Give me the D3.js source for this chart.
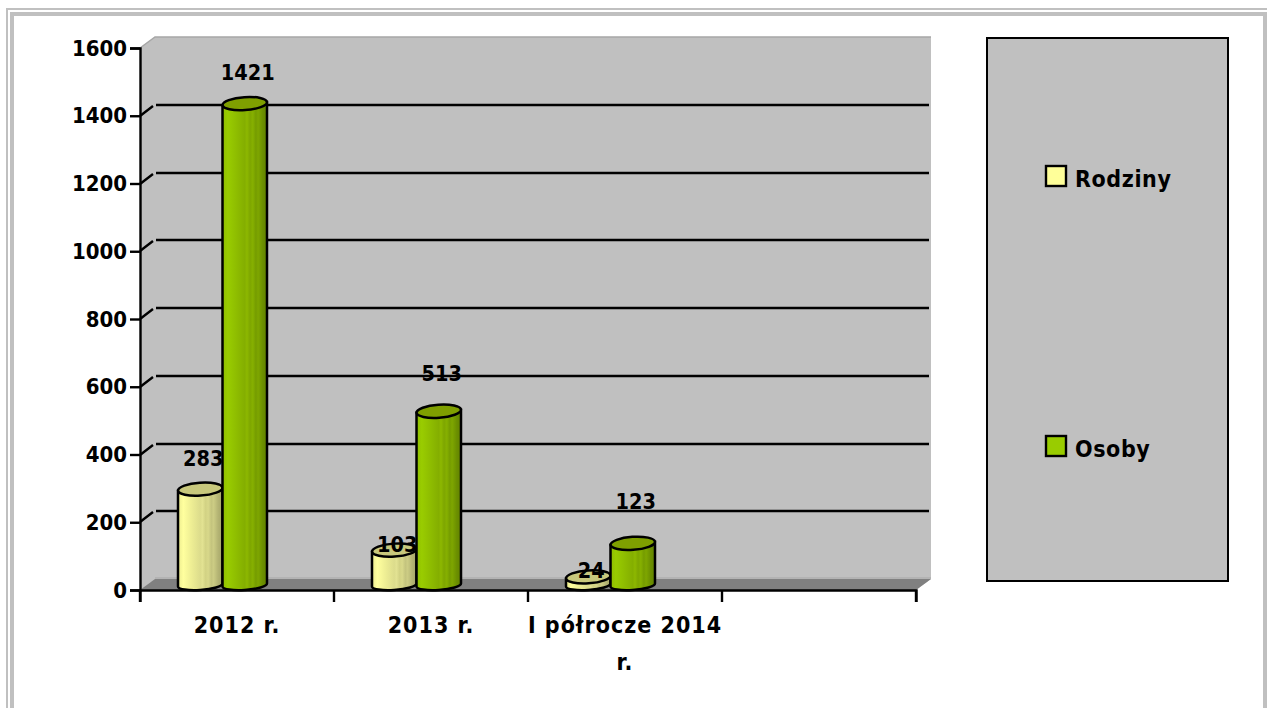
<!DOCTYPE html>
<html>
<head>
<meta charset="utf-8">
<script src="https://cdn.jsdelivr.net/npm/d3@7"></script>
<style>
body { margin: 0; background: #fff; }
svg { display: block; }
text { font-family: "DejaVu Sans Condensed", "DejaVu Sans", sans-serif; font-weight: bold; fill: #000; }
</style>
</head>
<body>
<div id="chart"></div>
<script>
var categories = ["2012 r.", "2013 r.", "I półrocze 2014 r.", " "];
var seriesNames = ["Rodziny", "Osoby"];
var rodziny = [283, 103, 24];
var osoby = [1421, 513, 123];
var yTicks = [0, 200, 400, 600, 800, 1000, 1200, 1400, 1600];

var width = 1267;
var height = 708;
var depthX = 15;
var depthY = 11;
var axisFont = 22;
var valueFont = 21.5;
var labelFont = 23;

var svg = d3.select("#chart").append("svg").attr("width", width).attr("height", height);

var x = d3.scaleBand().domain(categories).range([140, 916]);
var y = d3.scaleLinear().domain([0, 1600]).range([590, 48]);
// the two cylinders sit side by side in the middle of each band
var xInner = d3.scaleBand().domain(seriesNames).range([38, 127]);

// page frame, double grey line cut by the right edge
var frame = svg.append("g").attr("fill", "#c0c0c0");
frame.append("rect").attr("x", 6).attr("y", 8).attr("width", 1261).attr("height", 2);
frame.append("rect").attr("x", 10).attr("y", 12).attr("width", 1257).attr("height", 4);
frame.append("rect").attr("x", 6).attr("y", 8).attr("width", 2).attr("height", 700);
frame.append("rect").attr("x", 10).attr("y", 12).attr("width", 4).attr("height", 696);
frame.append("rect").attr("x", 1263).attr("y", 12).attr("width", 4).attr("height", 696);

var defs = svg.append("defs");
function addGradient(id, stops) {
    var g = defs.append("linearGradient").attr("id", id);
    stops.forEach(function(s) {
        g.append("stop").attr("offset", s[0]).attr("stop-color", s[1]);
    });
}
addGradient("gradRodziny", [[0, "#ecec90"], [0.12, "#ffff9e"], [0.3, "#eeee94"], [0.5, "#dcdc8c"], [0.55, "#e2e292"],
    [0.62, "#d2d284"], [0.68, "#d8d88a"], [0.75, "#c4c47e"], [0.8, "#cccc84"], [0.9, "#b4b474"], [1, "#a4a468"]]);
addGradient("gradOsoby", [[0, "#8fbf00"], [0.12, "#99cc00"], [0.3, "#8fbe00"], [0.5, "#84ae00"], [0.55, "#8db800"],
    [0.62, "#7ea600"], [0.68, "#86b000"], [0.75, "#759c00"], [0.8, "#7ea600"], [0.9, "#6c9000"], [1, "#628200"]]);
var topColor = { "Rodziny": "#c8c87c", "Osoby": "#7f9f00" };
var swatchColor = { "Rodziny": "#ffff99", "Osoby": "#99cc00" };

// 3D box: back wall, side wall, floor
var x0 = x.range()[0], x1 = x.range()[1];
var y0 = y(0), yTop = y(1600);
svg.append("path")
    .attr("d", "M" + x0 + "," + y0 + "L" + x0 + "," + yTop + "L" + (x0 + depthX) + "," + (yTop - depthY) +
        "L" + (x1 + depthX) + "," + (yTop - depthY) + "L" + (x1 + depthX) + "," + (y0 - depthY) + "L" + x1 + "," + y0 + "Z")
    .attr("fill", "#c0c0c0");
svg.append("path")
    .attr("d", "M" + x0 + "," + yTop + "L" + (x0 + depthX) + "," + (yTop - depthY) + "L" + (x1 + depthX) + "," + (yTop - depthY))
    .attr("fill", "none").attr("stroke", "#a6a6a6").attr("stroke-width", 1.5);
svg.append("path")
    .attr("d", "M" + x0 + "," + y0 + "L" + (x0 + depthX) + "," + (y0 - depthY) + "L" + (x1 + depthX) + "," + (y0 - depthY) + "L" + x1 + "," + y0 + "Z")
    .attr("fill", "#808080");
svg.append("path")
    .attr("d", "M" + (x0 + depthX) + "," + (y0 - depthY - 1) + "L" + (x1 + depthX) + "," + (y0 - depthY - 1))
    .attr("stroke", "#a6a6a6").attr("stroke-width", 1);

// gridlines on the back wall with the diagonal going back from each tick
var grid = svg.append("g").attr("stroke", "#000").attr("stroke-width", 2.4).attr("fill", "none");
grid.selectAll("path").data(yTicks.filter(function(d) { return d > 0 && d < 1600; })).enter().append("path")
    .attr("d", function(d) {
        var yy = Math.round(y(d));
        return "M" + x0 + "," + yy + "L" + (x0 + depthX - 2) + "," + (yy - depthY + 1) +
            "M" + (x0 + depthX + 1) + "," + (yy - depthY) + "L" + (x1 + depthX - 2) + "," + (yy - depthY);
    });

// cylinders
var baseLift = 5;
var ry = 6.5;
function cylinder(g, name, values) {
    var w = xInner.bandwidth();
    var rx = w / 2;
    values.forEach(function(v, i) {
        var cx = x(categories[i]) + xInner(name) + rx;
        var yBase = y(0) - baseLift;
        var yVal = y(v) - baseLift;
        g.append("path")
            .attr("d", "M" + (cx - rx) + "," + (yVal + 1.5) +
                "L" + (cx - rx) + "," + (yBase + 1.5) +
                "A" + rx + ",5 -4 0 0 " + (cx + rx) + "," + (yBase - 1.5) +
                "L" + (cx + rx) + "," + (yVal - 1.5) + "Z")
            .attr("fill", "url(#grad" + name + ")")
            .attr("stroke", "#000").attr("stroke-width", 2.5);
        g.append("ellipse")
            .attr("cx", cx).attr("cy", yVal)
            .attr("rx", rx).attr("ry", ry)
            .attr("transform", "rotate(-4 " + cx + " " + yVal + ")")
            .attr("fill", topColor[name])
            .attr("stroke", "#000").attr("stroke-width", 2.5);
    });
}
var bars = svg.append("g");
cylinder(bars, "Rodziny", rodziny);
cylinder(bars, "Osoby", osoby);

// axes
var yAxis = d3.axisLeft(y).tickValues(yTicks).tickSize(10).tickPadding(3).tickFormat(d3.format("d"));
var gy = svg.append("g").attr("transform", "translate(" + x0 + ",0)").call(yAxis);
gy.selectAll("text").attr("font-size", axisFont);

var xAxis = d3.axisBottom(x).tickSize(12).tickPadding(15);
var gx = svg.append("g").attr("transform", "translate(0," + y0 + ")").call(xAxis);
gx.selectAll(".tick line").attr("x1", -x.step() / 2).attr("x2", -x.step() / 2);
gx.append("line").attr("x1", x1).attr("x2", x1).attr("y1", 0).attr("y2", 12).attr("stroke", "#000");
gx.selectAll(".tick text").attr("font-size", labelFont).attr("letter-spacing", 1).each(wrap);
svg.selectAll(".domain, .tick line").attr("stroke", "#000").attr("stroke-width", 2.4);
svg.selectAll(".tick text").attr("fill", "#000");
gx.selectAll("line").attr("stroke-width", 2.4);
svg.selectAll("g[font-family]").attr("font-family", null);

// break a category label that does not fit its band
function wrap() {
    var t = d3.select(this);
    var words = t.text().split(" ");
    if (this.getComputedTextLength() <= x.step()) return;
    var last = words.pop();
    var yy = t.attr("y");
    t.text(null);
    t.append("tspan").attr("x", 0).attr("y", yy).attr("dy", "0.71em").text(words.join(" "));
    t.append("tspan").attr("x", 0).attr("y", yy).attr("dy", "2.3em").text(last);
}

// value labels, placed where the picture has them rather than uniformly
var nudgeRodziny = [-23, 2, 1];
var nudgeOsoby = [-24, -30, -34];
function valueLabels(name, values, nudge) {
    svg.append("g").selectAll("text").data(values).enter().append("text")
        .attr("x", function(d, i) { return x(categories[i]) + xInner(name) + xInner.bandwidth() / 2 + 3; })
        .attr("y", function(d, i) { return y(d) - baseLift + nudge[i]; })
        .attr("text-anchor", "middle")
        .attr("font-size", valueFont)
        .text(function(d) { return d; });
}
valueLabels("Rodziny", rodziny, nudgeRodziny);
valueLabels("Osoby", osoby, nudgeOsoby);

// legend
svg.append("rect").attr("x", 987).attr("y", 38).attr("width", 241).attr("height", 543)
    .attr("fill", "#c0c0c0").attr("stroke", "#000").attr("stroke-width", 2);
var legendY = d3.scalePoint().domain(seriesNames).range([176, 446]);
var legend = svg.append("g").selectAll("g").data(seriesNames).enter().append("g")
    .attr("transform", function(d) { return "translate(1046," + legendY(d) + ")"; });
legend.append("rect").attr("x", 0).attr("y", -10).attr("width", 20).attr("height", 20)
    .attr("fill", function(d) { return swatchColor[d]; })
    .attr("stroke", "#000").attr("stroke-width", 2.4);
legend.append("text").attr("x", 29).attr("y", 10.5).attr("font-size", labelFont).attr("letter-spacing", 0.6).text(function(d) { return d; });
</script>
</body>
</html>
